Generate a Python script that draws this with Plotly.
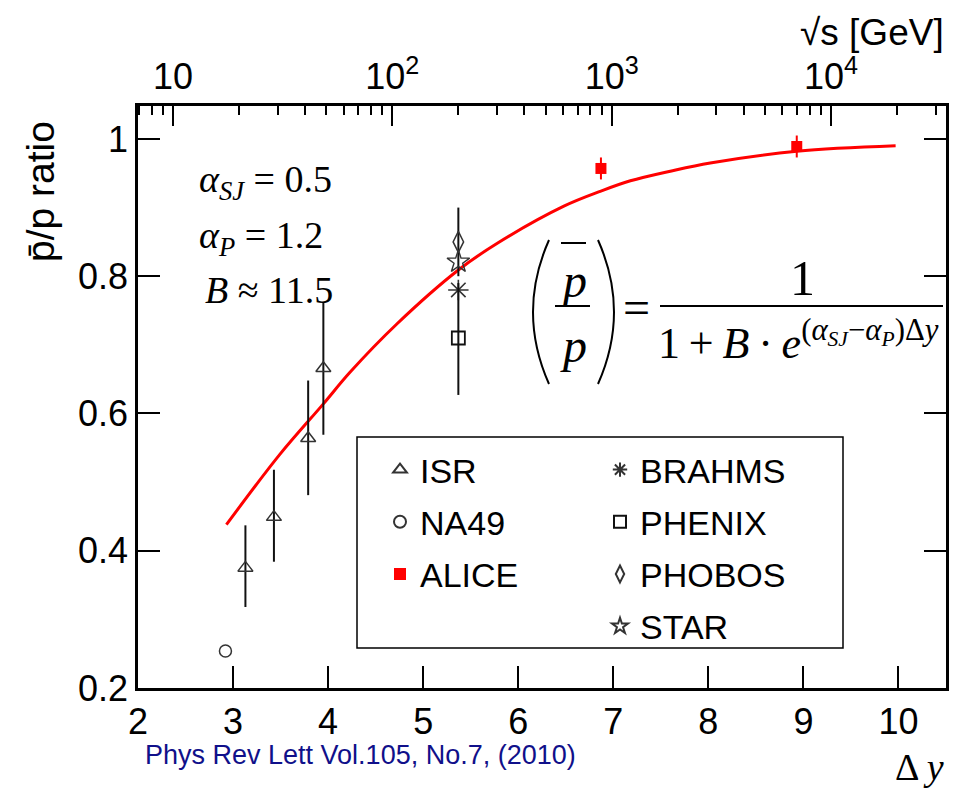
import numpy as np
import plotly.graph_objects as go

# Data (x = rapidity gap, y = pbar/p ratio)
isr_dy = [3.13, 3.43, 3.79, 3.95]
isr_r = [0.375, 0.449, 0.564, 0.666]
isr_up = [0.062, 0.069, 0.084, 0.095]
isr_dn = [0.057, 0.065, 0.083, 0.097]

na49_dy = [2.92]
na49_r = [0.254]

alice_dy = [6.87, 8.93]
alice_r = [0.957, 0.989]
alice_err = [0.016, 0.016]

rhic_dy = 5.37
brahms_r = 0.780
phenix_r, phenix_up, phenix_dn = 0.710, 0.08, 0.083
phobos_r, phobos_err = 0.850, 0.05
star_r = 0.821

fit_dy = [2.93, 3.49, 3.95, 4.23, 4.72, 5.37, 5.78, 6.48, 6.87, 7.18, 7.6, 8.02, 8.93, 9.97]
fit_r = [0.438, 0.540, 0.614, 0.660, 0.730, 0.809, 0.848, 0.902, 0.924, 0.939, 0.953, 0.965, 0.982, 0.990]

x_ticks = [2, 3, 4, 5, 6, 7, 8, 9, 10]
y_ticks = [0.2, 0.4, 0.6, 0.8, 1.0]
y_labels = ["0.2", "0.4", "0.6", "0.8", "1"]
sqrts_ticks = [10, 100, 1000, 10000]
sqrts_labels = ["10", "10<sup>2</sup>", "10<sup>3</sup>", "10<sup>4</sup>"]
sqrts_minor = [m * 10 ** d for d in range(0, 5) for m in range(2, 10) if 7 <= m * 10 ** d <= 30000]

W, H = 958, 793
L, R, T, B = 138, 12, 106, 105
PW, PH = W - L - R, H - T - B


def px(x):
    return (x - L) / PW


def py(y):
    return (T + PH - y) / PH


SANS = "Liberation Sans, Arial"
SERIF = "Liberation Serif, Times New Roman"
GRAY = "#333333"

fig = go.Figure()

fig.add_trace(go.Scatter(x=fit_dy, y=fit_r, mode="lines", line=dict(color="red", width=3, shape="spline", smoothing=1.0),
                         showlegend=False, hoverinfo="skip"))


def err(up, dn=None):
    d = dict(type="data", symmetric=dn is None, array=up, color="#111111", thickness=2, width=0)
    if dn is not None:
        d["arrayminus"] = dn
    return d


fig.add_trace(go.Scatter(x=isr_dy, y=isr_r, mode="markers", name="ISR", legend="legend", legendgroup="a",
                         error_y=err(isr_up, isr_dn),
                         marker=dict(symbol="triangle-up-open", size=13, color=GRAY, line=dict(width=1.5))))
fig.add_trace(go.Scatter(x=na49_dy, y=na49_r, mode="markers", name="NA49", legend="legend", legendgroup="b",
                         marker=dict(symbol="circle-open", size=12, color=GRAY, line=dict(width=1.5))))
fig.add_trace(go.Scatter(x=alice_dy, y=alice_r, mode="markers", name="ALICE", legend="legend", legendgroup="c",
                         error_y=dict(type="data", array=alice_err, color="red", thickness=2, width=0),
                         marker=dict(symbol="square", size=11, color="red")))

fig.add_trace(go.Scatter(x=[rhic_dy], y=[brahms_r], mode="markers", name="BRAHMS", legend="legend2", legendgroup="d",
                         marker=dict(symbol="asterisk-open", size=17, color=GRAY, line=dict(width=1.6))))
fig.add_trace(go.Scatter(x=[rhic_dy], y=[phenix_r], mode="markers", name="PHENIX", legend="legend2", legendgroup="e",
                         error_y=err([phenix_up], [phenix_dn]),
                         marker=dict(symbol="square-open", size=13, color="#111111", line=dict(width=1.8))))
fig.add_trace(go.Scatter(x=[rhic_dy], y=[phobos_r], mode="markers", name="PHOBOS", legend="legend2", legendgroup="f",
                         error_y=err([phobos_err]),
                         marker=dict(symbol="diamond-tall-open", size=15, color=GRAY, line=dict(width=1.5))))
fig.add_trace(go.Scatter(x=[rhic_dy], y=[star_r], mode="markers", name="STAR", legend="legend2", legendgroup="g",
                         marker=dict(symbol="star-open", size=17, color=GRAY, line=dict(width=1.4))))

# invisible helper so the top sqrt(s) axis is drawn
fig.add_trace(go.Scatter(x=sqrts_ticks, y=[0.5] * len(sqrts_ticks), xaxis="x2", mode="markers",
                         marker=dict(opacity=0), showlegend=False, hoverinfo="skip"))

axis_font = dict(family=SANS, size=36, color="black")
leg = dict(xanchor="left", yanchor="top", bgcolor="rgba(0,0,0,0)",
           font=dict(family=SANS, size=34, color="black"), traceorder="grouped", tracegroupgap=5,
           itemsizing="constant")
fig.update_layout(
    width=W, height=H,
    margin=dict(l=L, r=R, t=T, b=B, autoexpand=False),
    paper_bgcolor="white", plot_bgcolor="white",
    xaxis=dict(range=[2, 10.5], tickvals=x_ticks, ticks="inside", ticklen=22, tickwidth=2, tickcolor="black",
               showline=True, linewidth=2.5, linecolor="black", mirror=True, showgrid=False, zeroline=False,
               tickfont=axis_font, automargin=False),
    xaxis2=dict(type="log", range=[0.8404, 4.5244], overlaying="x", side="top", anchor="y",
                tickvals=sqrts_ticks, ticktext=sqrts_labels, ticks="inside", ticklen=20, tickwidth=2,
                tickcolor="black", showline=True, linewidth=2.5, linecolor="black", showgrid=False,
                minor=dict(tickvals=sqrts_minor, ticks="inside", ticklen=9, tickwidth=1.5, tickcolor="black",
                           showgrid=False),
                tickfont=axis_font, automargin=False),
    yaxis=dict(range=[0.2, 1.048], tickvals=y_ticks, ticktext=y_labels, ticks="inside", ticklen=22, tickwidth=2,
               tickcolor="black", showline=True, linewidth=2.5, linecolor="black", mirror="ticks",
               showgrid=False, zeroline=False, tickfont=axis_font, automargin=False),
    legend=dict(x=px(380), y=py(441), **leg),
    legend2=dict(x=px(600), y=py(441), **leg),
    showlegend=True,
)

shapes = [
    # legend frame
    dict(type="rect", xref="paper", yref="paper", x0=px(357), x1=px(843), y0=py(648), y1=py(437),
         line=dict(color="black", width=1.5)),
    # formula: parentheses, bars
    dict(type="path", xref="paper", yref="paper", line=dict(color="black", width=2),
         path=f"M {px(549)},{py(240)} Q {px(517)},{py(312)} {px(549)},{py(384)}"),
    dict(type="path", xref="paper", yref="paper", line=dict(color="black", width=2),
         path=f"M {px(598)},{py(240)} Q {px(630)},{py(312)} {px(598)},{py(384)}"),
    dict(type="line", xref="paper", yref="paper", x0=px(561), x1=px(586), y0=py(243), y1=py(243),
         line=dict(color="black", width=2)),
    dict(type="line", xref="paper", yref="paper", x0=px(555), x1=px(590), y0=py(306), y1=py(306),
         line=dict(color="black", width=2)),
    dict(type="line", xref="paper", yref="paper", x0=px(660), x1=px(943), y0=py(306), y1=py(306),
         line=dict(color="black", width=2)),
]
fig.update_layout(shapes=shapes)


def note(text, x, y, size, family=SERIF, xanchor="center", yanchor="middle", color="black", **kw):
    fig.add_annotation(text=text, xref="paper", yref="paper", x=px(x), y=py(y), xanchor=xanchor,
                       yanchor=yanchor, showarrow=False, font=dict(family=family, size=size, color=color), **kw)


note("<i>α</i><sub><i>SJ</i></sub> = 0.5", 197, 182, 38, xanchor="left")
note("<i>α</i><sub><i>P</i></sub> = 1.2", 197, 238, 38, xanchor="left")
note("<i>B</i> ≈ 11.5", 203, 290, 38, xanchor="left")

note("<i>p</i>", 573, 280, 48)
note("<i>p</i>", 573, 345, 48)
note("=", 636, 307, 48)
note("1", 802, 278, 50)
note("1\u2009+\u2009<i>B</i>\u2009·\u2009<i>e</i><sup>(<i>α</i><sub><i>SJ</i></sub>−<i>α</i><sub><i>P</i></sub>)Δ<i>y</i></sup>",
     656, 340, 44, xanchor="left")

note("p\u0304/p ratio", 40, 192, 39, family=SANS, textangle=-90)
note("√s [GeV]", 946, 32, 37, family=SANS, xanchor="right")
note("Δ <i>y</i>", 946, 790, 38, xanchor="right", yanchor="bottom")
note("Phys Rev Lett Vol.105, No.7, (2010)", 143, 755, 27, family=SANS, xanchor="left", color="#10108a")

fig.write_html("out.html", config={"displayModeBar": False},
               post_script="document.body.style.margin='0';")
